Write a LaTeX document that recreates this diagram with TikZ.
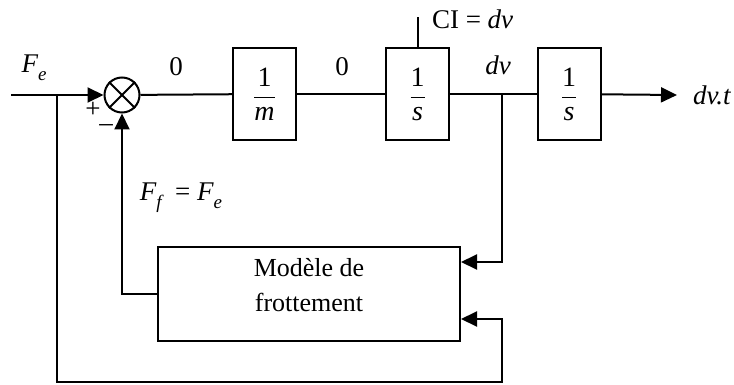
\documentclass[tikz,border=0pt]{standalone}
\usepackage{fontspec}
\setmainfont{Liberation Serif}
\usetikzlibrary{arrows.meta}
\begin{document}
\begin{tikzpicture}[x=1pt,y=-1pt, line width=2pt,
  blk/.style={draw, minimum width=63pt, minimum height=92pt, inner sep=0pt,
    font=\fontsize{28}{32}\selectfont},
  arr/.style={-{Triangle[length=16pt,width=15pt]}},
  lbl/.style={font=\fontsize{27}{30}\selectfont, inner sep=0pt},
  sgn/.style={font=\fontsize{27}{28}\selectfont, inner sep=0pt},
  ]
\useasboundingbox (0,0) rectangle (734,385);
\newcommand{\ivar}[1]{\mbox{\itshape #1}}
\newcommand{\isub}[1]{\raisebox{-0.3em}{\fontsize{19}{19}\selectfont\itshape #1}}
% nodes
\node[circle, draw, minimum size=35pt, inner sep=0pt] (sum) at (122,95) {};
\node[blk] (m1) at (264.5,94) {$\displaystyle\frac{\mbox{1}}{\ivar{m}}$};
\node[blk] (s1) at (417.5,94) {$\displaystyle\frac{\mbox{1}}{\ivar{s}}$};
\node[blk] (s2) at (569,94) {$\displaystyle\frac{\mbox{1}}{\ivar{s}}$};
\node[draw, minimum width=302pt, minimum height=94pt, inner sep=0pt,
  font=\fontsize{26}{35}\selectfont] (fr) at (309,294)
  {\raisebox{7pt}[\height][\depth]{\begin{tabular}{@{}c@{}}Modèle de\\frottement\end{tabular}}};
% coordinates
\coordinate (in) at (11,95);
\coordinate (b1) at (57,95);
\coordinate (b2) at (502,95);
\coordinate (out) at (677,95);
\coordinate (ci) at (417.5,17);
\coordinate (c1) at (502,382);
% cross in summing junction
\draw (sum.north east) -- (sum.south west);
\draw (sum.north west) -- (sum.south east);
% connectors
\draw[arr] (in) -- (sum);
\draw (sum) -- (m1);
\draw (m1) -- (s1);
\draw (s1) -- (s2);
\draw[arr] (s2) -- (out);
\draw (s1.north) -- (ci);
\draw[arr] (b2) |- ([yshift=32pt]fr.east);
\draw[arr] (b1) |- (c1) |- ([yshift=-25pt]fr.east);
\draw[arr] (fr.west) -| (sum.south);
% labels
\node[lbl] (lfe) at (34,68) {\ivar{F}\isub{e}};
\node[lbl] (l0a) at (176,67) {0};
\node[lbl] (l0b) at (342,67) {0};
\node[lbl, anchor=west] (lci) at (431,19) {CI = \ivar{dv}};
\node[lbl] (ldv) at (498,65) {\ivar{dv}};
\node[lbl, anchor=west] (ldvt) at (692,95) {\ivar{dv.t}};
\node[lbl] (lff) at (181,198) {\ivar{F}\isub{f}\ \ = \ivar{F}\isub{e}};
\node[sgn] (lp) at (93,110) {+};
\node[sgn] (lm) at (106,128) {\textendash};
\end{tikzpicture}
\end{document}
